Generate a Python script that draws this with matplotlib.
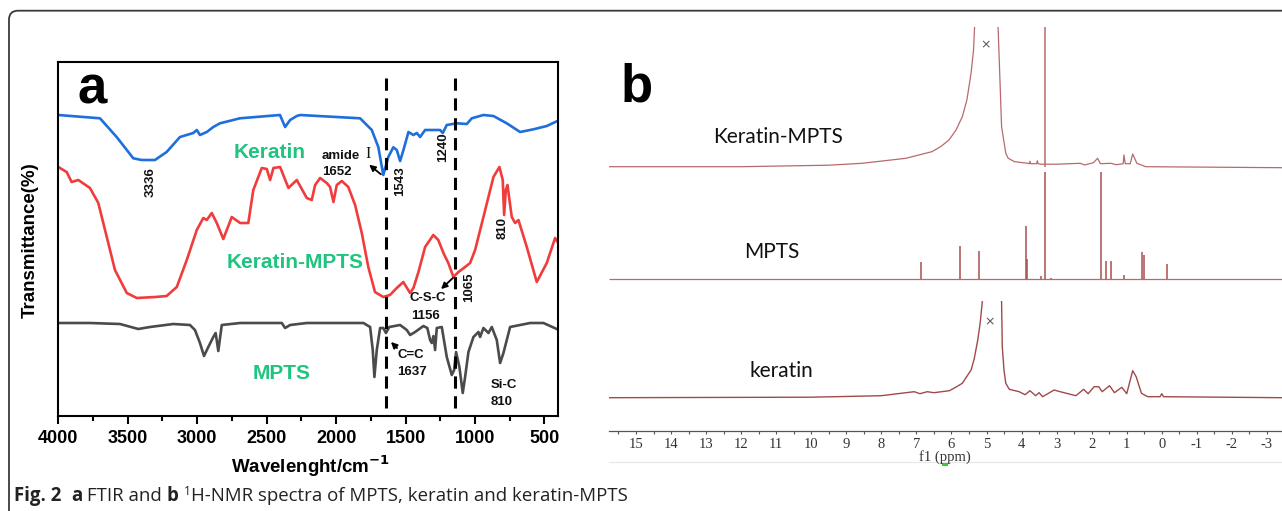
import numpy as np
import matplotlib
matplotlib.use("Agg")
import matplotlib.pyplot as plt
from matplotlib.patches import FancyBboxPatch, Rectangle
from matplotlib.transforms import IdentityTransform

W, H = 1282, 511

# ---- FTIR (panel a): (wavenumber, transmittance a.u.)
keratin_ir = [(4000, 301), (3700, 297.7), (3580, 279), (3460, 257.7), (3400, 256), (3304, 256),
              (3220, 264), (3124, 279), (3028, 283), (3003, 286), (2980, 281), (2931, 284),
              (2884, 289), (2836, 292.7), (2692, 297.7), (2404, 301), (2367, 289), (2331, 296),
              (2283, 300), (2259, 301), (1827, 297.7), (1743, 286), (1696, 269), (1660, 241),
              (1624, 259), (1588, 268.7), (1563, 266), (1539, 255), (1515, 266), (1479, 284),
              (1443, 281), (1419, 283), (1395, 279), (1359, 286), (1251, 286), (1232, 283),
              (1203, 291), (1131, 292.7), (1059, 292), (1023, 297.7), (939, 301), (867, 300),
              (771, 292.7), (675, 284), (579, 286.7), (483, 290), (406, 295)]

keratin_mpts_ir = [(4000, 249), (3940, 244), (3904, 234), (3856, 236), (3772, 228), (3712, 213),
                   (3651, 179), (3592, 146), (3507, 123), (3435, 118), (3300, 119), (3220, 120),
                   (3147, 129), (3075, 156), (3003, 186), (2956, 198), (2931, 196), (2895, 203),
                   (2859, 193), (2812, 177), (2751, 199), (2691, 193), (2632, 193), (2596, 226),
                   (2535, 248), (2499, 247), (2475, 236), (2451, 248), (2403, 249), (2343, 228),
                   (2283, 236), (2211, 218), (2175, 216), (2151, 231), (2115, 238), (2067, 233),
                   (2043, 229), (2019, 214), (1995, 231), (1959, 235), (1912, 229), (1863, 211),
                   (1815, 183), (1768, 149), (1720, 124), (1660, 119), (1612, 121), (1563, 128),
                   (1516, 134), (1467, 123), (1443, 128), (1407, 144), (1359, 169), (1300, 181),
                   (1264, 176), (1227, 163), (1192, 153), (1155, 139), (1119, 144), (1071, 149),
                   (1035, 153), (999, 166), (939, 199), (867, 239), (824, 249), (800, 236),
                   (790, 201), (778, 226), (766, 231), (735, 199), (711, 193), (687, 196),
                   (627, 169), (555, 134), (483, 153), (423, 178), (400, 173)]

mpts_ir = [(4000, 93), (3772, 93), (3556, 92), (3424, 87), (3340, 89), (3172, 92), (3052, 91),
           (3016, 86), (2980, 73), (2951, 60), (2920, 69), (2884, 79), (2867, 83), (2848, 65),
           (2823, 91), (2691, 93), (2391, 93), (2367, 88), (2331, 91), (2211, 93), (1803, 93),
           (1755, 89), (1736, 66), (1724, 39), (1707, 66), (1683, 88), (1660, 88), (1641, 83),
           (1617, 89), (1539, 91), (1491, 86), (1467, 81), (1431, 84), (1371, 90), (1343, 88),
           (1323, 76), (1311, 73), (1299, 80), (1287, 66), (1275, 88), (1239, 89), (1203, 59),
           (1167, 41), (1150, 46), (1136, 64), (1112, 49), (1088, 23), (1071, 39), (1047, 64),
           (1011, 79), (975, 84), (963, 79), (939, 88), (903, 83), (879, 89), (843, 76),
           (819, 53), (795, 63), (747, 89), (675, 91), (603, 93), (507, 93), (411, 87)]

guide_lines = [1637, 1145]

# ---- 1H-NMR (panel b): (ppm, intensity a.u.)
keratin_mpts_nmr = [(15.77, 264), (12, 264), (9.5, 265.5), (8.55, 267.4), (7.3, 272.4), (6.56, 279),
                    (6.31, 284), (6.07, 290.7), (5.87, 300.7), (5.69, 314), (5.56, 330.7),
                    (5.44, 357.7), (5.37, 380.7), (5.34, 403.7), (5.3, 460), (4.7, 460),
                    (4.67, 403.7), (4.63, 364), (4.57, 304), (4.45, 277.4), (4.38, 272.4), (4.2, 269),
                    (3.82, 267.4), (3.78, 267), (3.76, 269.5), (3.74, 267), (3.57, 267), (3.55, 270),
                    (3.53, 267), (3.45, 266.5), (3.0, 266.5), (2.32, 267.4), (2.2, 265.7), (1.95, 268),
                    (1.83, 272.4), (1.75, 267), (1.45, 267.4), (1.3, 266), (1.1, 267), (1.08, 275.7),
                    (1.04, 267), (0.9, 267), (0.83, 276.7), (0.77, 272), (0.71, 267.4), (0.46, 264),
                    (-3.43, 263)]
keratin_mpts_sharp = [(3.32, 264, 460)]

mpts_base = 151.4
mpts_ppm = [6.87, 5.76, 5.22, 3.87, 3.84, 3.45, 3.33, 3.15, 1.74, 1.58, 1.45, 1.08, 0.56, 0.52, -0.15]
mpts_top = [168.4, 184.7, 179.7, 204.7, 172, 154.7, 258.4, 153, 258.4, 170, 169.4, 155.7, 179, 176, 166.7]

keratin_nmr = [(15.77, 33), (10, 33.5), (8, 35), (7.3, 38), (7.06, 39), (6.9, 37), (6.69, 39),
               (6.5, 38), (6.06, 40), (5.9, 43), (5.69, 47.4), (5.44, 60.7), (5.35, 72),
               (5.25, 90.7), (5.18, 108), (5.12, 129),
               (np.nan, np.nan), (4.57, 129), (4.55, 84), (4.5, 60), (4.45, 47.4), (4.35, 41.4),
               (4.07, 39), (3.9, 36), (3.76, 40), (3.6, 35), (3.5, 38), (3.4, 34), (3.07, 40.7),
               (2.9, 39), (2.45, 35), (2.23, 41.4), (2.1, 37), (1.93, 44), (1.8, 44), (1.7, 39),
               (1.49, 45), (1.35, 38), (1.14, 43.4), (1.0, 37), (0.83, 60), (0.73, 54),
               (0.58, 37.4), (0.4, 34), (0.05, 34), (0.0, 37), (-0.05, 34), (-3.43, 33)]

GREEN = "#1fc47e"
ARIAL = "Liberation Sans"


def ftext(x, y, s, **kw):
    # place text at pixel position measured from top-left
    return fig.text(x / W, 1 - y / H, s, **kw)


def arrow(tail, head):
    fig.add_artist(matplotlib.patches.FancyArrowPatch(
        (tail[0], H - tail[1]), (head[0], H - head[1]), transform=IdentityTransform(),
        arrowstyle="-|>", mutation_scale=9, lw=1.3, color="black"))


fig = plt.figure(figsize=(W / 100, H / 100), dpi=100)
fig.patch.set_facecolor("white")

# rounded frame
fig.add_artist(FancyBboxPatch((9, -40), 1320, H - 10.7 + 40, boxstyle="round,pad=0,rounding_size=9",
                              transform=IdentityTransform(), fill=False, ec="#3a3a3a", lw=1.3))

# ---------------- panel a
ax = fig.add_axes([58.3 / W, 1 - 416 / H, 500 / W, 354 / H])
for data, col in [(keratin_ir, "#1e6fdc"), (keratin_mpts_ir, "#f03c3c"), (mpts_ir, "#4b4b4b")]:
    x, y = zip(*data)
    ax.plot(x, y, color=col, lw=1.9, solid_joinstyle="round")
ax.vlines(guide_lines, 8, 343, colors="black", linestyles=(0, (4, 2.5)), lw=2.2)
ax.set_xlim(4000, 400)
ax.set_ylim(0, 354)
ax.set_yticks([])
ax.set_xticks([4000, 3500, 3000, 2500, 2000, 1500, 1000, 500])
ax.set_xticks(np.arange(3750, 400, -500), minor=True)
ax.tick_params(axis="x", which="major", length=6, width=1.5, direction="out", pad=4)
ax.tick_params(axis="x", which="minor", length=3.5, width=1.5, direction="out")
for s in ax.spines.values():
    s.set_linewidth(1.5)
for lab in ax.get_xticklabels():
    lab.set_fontfamily(ARIAL)
    lab.set_fontweight("bold")
    lab.set_fontsize(13)

ftext(30, 240, "Transmittance(%)", rotation=90, ha="center", va="center",
      family=ARIAL, weight="bold", fontsize=13.5)
ftext(310, 466, "Wavelenght/cm$^{\\mathbf{-1}}$", ha="center", va="center",
      family=ARIAL, weight="bold", fontsize=13.5)
ftext(92, 90, "a", ha="center", va="center", family=ARIAL, weight="bold", fontsize=38)

for s, x, y in [("Keratin", 270, 153), ("Keratin-MPTS", 295, 262), ("MPTS", 282, 373)]:
    ftext(x, y, s, ha="center", va="center", family=ARIAL, weight="bold", fontsize=15, color=GREEN)

small = dict(family=ARIAL, weight="bold", fontsize=9.5, color="#111111")
for s, x, y in [("3336", 151, 182), ("1543", 400, 181), ("1240", 443, 147),
                ("810", 503, 228), ("1065", 469, 287)]:
    ftext(x, y, s, rotation=90, ha="center", va="center", **small)
ftext(322, 156, "amide", ha="left", va="center", **small)
ftext(368, 154, "I", ha="center", va="center", family="Liberation Serif", fontsize=11.5, color="#111111")
ftext(337, 172, "1652", ha="center", va="center", **small)
ftext(428, 298, "C-S-C", ha="center", va="center", **small)
ftext(426, 316, "1156", ha="center", va="center", **small)
ftext(411, 355, "C=C", ha="center", va="center", **small)
ftext(412, 372, "1637", ha="center", va="center", **small)
ftext(504, 385, "Si-C", ha="center", va="center", **small)
ftext(502, 402, "810", ha="center", va="center", **small)
arrow((383, 176), (367, 163))
arrow((455, 276), (439, 291))
arrow((399, 350), (389, 340))

# ---------------- panel b
bx = fig.add_axes([609 / W, 1 - 430.7 / H, (W - 609) / W, 403.7 / H])
NMR_COL = "#b86a6a"
x, y = zip(*keratin_mpts_nmr)
bx.plot(x, y, color=NMR_COL, lw=0.9)
for p, lo, hi in keratin_mpts_sharp:
    bx.vlines(p, lo, hi, color=NMR_COL, lw=1.1)
bx.hlines(mpts_base, 15.77, -3.43, color=NMR_COL, lw=0.9)
bx.vlines(mpts_ppm, mpts_base, mpts_top, color="#a85050", lw=1.1)
x, y = zip(*keratin_nmr)
bx.plot(x, y, color="#a04a4a", lw=1.0)
bx.set_xlim(15.77, -3.43)
bx.set_ylim(0, 403.7)
bx.set_yticks([])
for k in ["top", "left", "right"]:
    bx.spines[k].set_visible(False)
bx.spines["bottom"].set_color("#555555")
bx.spines["bottom"].set_linewidth(0.9)
bx.set_xticks(np.arange(15, -4, -1))
bx.set_xticks(np.arange(15.5, -3.5, -0.5), minor=True)
bx.set_xticklabels([str(v) for v in range(15, -4, -1)])
bx.tick_params(axis="x", which="both", length=2.5, width=0.8, color="#555555", direction="out", pad=3)
for lab in bx.get_xticklabels():
    lab.set_fontfamily("Liberation Serif")
    lab.set_fontsize(10.5)
    lab.set_color("#333333")

ftext(945, 457, "f1 (ppm)", ha="center", va="center", family="Liberation Serif", fontsize=10.5, color="#333333")
fig.add_artist(Rectangle((942 / W, 1 - 466 / H), 6 / W, 4 / H, transform=fig.transFigure,
                         color="#33cc33", lw=0))
fig.add_artist(matplotlib.lines.Line2D([609 / W, 1], [1 - 462 / H] * 2, color="#e6e6e6", lw=0.8))
ftext(637, 88, "b", ha="center", va="center", family=ARIAL, weight="bold", fontsize=38)
lbl = dict(family="Lato", fontsize=15, color="#111111", ha="center", va="center")
ftext(778, 137, "Keratin-MPTS", **lbl)
ftext(772, 252, "MPTS", **lbl)
ftext(781, 371, "keratin", **lbl)
ftext(986, 45, "\u00d7", ha="center", va="center", fontsize=9, color="#555555")
ftext(990, 322, "\u00d7", ha="center", va="center", fontsize=9, color="#555555")

# ---------------- caption
renderer = fig.canvas.get_renderer()
xpos = 14
cap = [("Fig. 2", "bold", 13.4, 0), ("  ", "normal", 13.4, 0), ("a", "bold", 13.4, 0),
       (" FTIR and ", "normal", 13.4, 0), ("b", "bold", 13.4, 0), (" ", "normal", 13.4, 0),
       ("1", "normal", 8.5, 6), ("H-NMR spectra of MPTS, keratin and keratin-MPTS", "normal", 13.4, 0)]
for s, wt, fs, rise in cap:
    t = ftext(xpos, 501 - rise, s, ha="left", va="baseline", family="Open Sans",
              weight=wt, fontsize=fs, color="#222222")
    xpos += t.get_window_extent(renderer).width

fig.savefig("out.png", dpi=100)
